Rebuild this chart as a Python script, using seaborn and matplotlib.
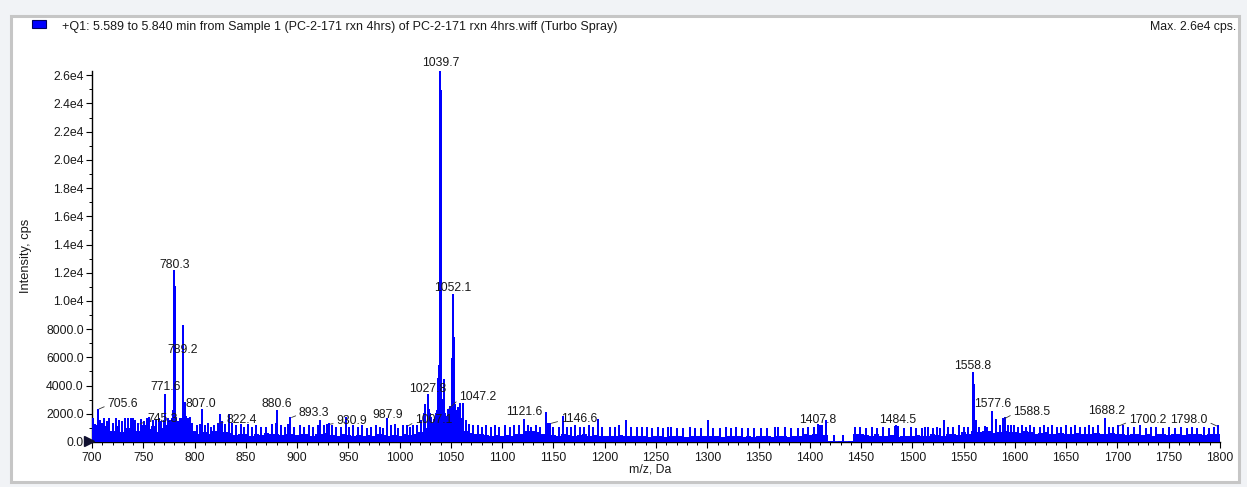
import numpy as np
import pandas as pd
import matplotlib
matplotlib.use("Agg")
import matplotlib.pyplot as plt
import matplotlib.transforms as mtransforms
from matplotlib.patches import Rectangle
from matplotlib.ticker import FixedLocator, FixedFormatter, MultipleLocator
import seaborn as sns

# ---------------- data ----------------
title_text = "+Q1: 5.589 to 5.840 min from Sample 1 (PC-2-171 rxn 4hrs) of PC-2-171 rxn 4hrs.wiff (Turbo Spray)"
max_text = "Max. 2.6e4 cps."
x_label = "m/z, Da"
y_label = "Intensity, cps"

# dense baseline (cps), one value every 5 Da from 700 to 1800
baseline_start, baseline_step = 700, 5
baseline_cps = [
    1100, 1200, 900, 1100, 800, 1150, 700, 1000, 1100, 800, 1200, 900, 1100, 700, 1000, 1200, 800, 1000, 1300, 1100,
    800, 600, 700, 550, 800, 600, 700, 650, 500, 600, 550, 450, 600, 500, 650, 550, 600, 500, 550, 600,
    500, 600, 550, 450, 600, 550, 650, 500, 450, 550, 500, 450, 500, 400, 500, 450, 550, 500, 450, 500,
    450, 550, 500, 550, 700, 1000, 1300, 1600, 1900, 1700, 2000, 1600, 1100, 800, 650, 550, 600, 500, 450, 500,
    450, 500, 450, 550, 600, 750, 800, 700, 550, 600, 500, 450, 550, 500, 450, 500, 550, 450, 500, 450,
    450, 400, 450, 500, 400, 450, 400, 450, 400, 350, 450, 400, 350, 400, 450, 400, 350, 400, 450, 400,
    400, 450, 400, 350, 400, 450, 400, 350, 400, 350, 400, 450, 400, 350, 450, 400, 350, 400, 450, 550,
    500, 550, 600, 500, 50, 0, 60, 0, 80, 600, 550, 500, 450, 550, 400, 450, 500, 350, 450, 400,
    450, 500, 400, 450, 550, 500, 450, 550, 600, 500, 700, 600, 800, 700, 750, 800, 650, 700, 750, 700,
    700, 650, 750, 700, 600, 650, 700, 600, 550, 650, 600, 550, 650, 600, 550, 600, 650, 550, 600, 650,
    550, 600, 500, 550, 600, 500, 550, 450, 600, 550, 500, 550, 600, 500, 550, 600, 550, 500, 550, 600, 550,
]

# unlabelled centroid spikes
spike_mz = [
    701, 703, 708, 710, 712, 715, 717, 720, 723, 726, 729, 732, 735, 738, 740, 742, 748, 751, 754, 756,
    759, 762, 765, 767, 770, 774, 776, 778, 779, 781.1, 782, 784, 786, 788, 790.2, 791, 792, 794, 796, 798,
    802, 805, 810, 813, 816, 819, 825, 827, 830, 834, 837, 840, 845, 848, 852, 856, 860, 865, 870, 876,
    879, 884, 888, 891, 897,
    903, 907, 912, 916, 920, 922, 926, 929, 934, 938, 943, 947.8, 951, 955, 959, 963, 968, 972, 977, 981,
    984, 992, 995, 998,
    1003, 1010, 1013, 1017, 1021, 1024, 1025, 1029, 1030, 1031, 1033, 1035, 1036.5, 1037.5, 1038.5, 1040.5,
    1041.5, 1043, 1044, 1046, 1049, 1051, 1053, 1054, 1055.5, 1057, 1058.5, 1060, 1062, 1065, 1068, 1072,
    1076, 1080, 1084, 1089, 1093, 1097,
    1103, 1108, 1112, 1116, 1125, 1128, 1133, 1137, 1143, 1145, 1150, 1155, 1159, 1163, 1167, 1171, 1176,
    1180, 1185, 1189, 1193, 1197,
    1205, 1210, 1214, 1221, 1226, 1231, 1236, 1241, 1246, 1252, 1257, 1262, 1265, 1270, 1276, 1283, 1288,
    1294, 1300.7,
    1306, 1312, 1318, 1323, 1328, 1334, 1340, 1346, 1352, 1358, 1366, 1369, 1376, 1382, 1388, 1393, 1398,
    1404, 1410, 1412, 1416, 1424, 1432, 1444, 1449, 1455, 1461, 1466, 1471, 1477, 1483, 1486, 1492, 1499,
    1504, 1509, 1512, 1515, 1520, 1524, 1527, 1530.8, 1535, 1540, 1545, 1550, 1554, 1560, 1562, 1565,
    1570.7, 1573, 1582, 1585, 1590, 1593, 1596, 1599,
    1603, 1607, 1611, 1615, 1619, 1624, 1628, 1632, 1636, 1641, 1645, 1650, 1655, 1659, 1663, 1668, 1672,
    1676, 1681, 1692, 1696,
    1705, 1710, 1716, 1722, 1728, 1733, 1738, 1744, 1750, 1756, 1762, 1768, 1773, 1778, 1784, 1789, 1794,
]
spike_cps = [
    1600, 1200, 1500, 1300, 1600, 1400, 1600, 1300, 1650, 1500, 1400, 1650, 1650, 1650, 1650, 1500, 1550, 1400, 1650, 1700,
    1500, 1550, 1650, 1450, 1500, 1650, 1500, 1600, 2200, 11000, 1700, 1400, 1650, 1600, 2800, 2800, 1800, 1600, 1700, 1300,
    1100, 1200, 1100, 1300, 1000, 1100, 1900, 1400, 1200, 1900, 1300, 1100, 1200, 1000, 1200, 1000, 1100, 1000, 1000, 1200,
    1300, 1100, 1000, 1200, 1000,
    1100, 1000, 1100, 1000, 1100, 1500, 1100, 1200, 1100, 1000, 1000, 1700, 1000, 1100, 1000, 1100, 900, 1000, 1100, 1000,
    900, 1100, 1200, 900,
    1100, 1000, 1100, 1100, 1500, 2000, 2600, 2300, 2000, 1700, 1300, 2000, 2200, 4500, 5400, 24900,
    3000, 4400, 2000, 1800, 2500, 5900, 7400, 2600, 2200, 2400, 2700, 1600, 2700, 1500, 1200, 1100,
    1100, 1000, 1100, 1000, 1100, 1000,
    1100, 1000, 1100, 1100, 1100, 1000, 1100, 1000, 2050, 1300, 1000, 1000, 1800, 1000, 1000, 1100, 1000,
    1000, 1100, 1000, 1550, 1000,
    1000, 1000, 1100, 1500, 1000, 1000, 1000, 1000, 900, 1000, 900, 1000, 1000, 900, 900, 1000, 900,
    900, 1500,
    900, 900, 1000, 900, 1000, 900, 900, 900, 900, 900, 1000, 1000, 1000, 900, 900, 900, 1000,
    1000, 1100, 1100, 1500, 400, 450, 1000, 1000, 900, 1000, 900, 1000, 900, 1050, 1050, 900, 1000,
    900, 900, 1000, 1000, 900, 1000, 900, 1500, 1000, 1000, 1100, 1000, 1000, 4040, 1500, 1000,
    1090, 1000, 1560, 1100, 1700, 1100, 1100, 1100,
    1000, 1100, 1000, 1100, 1000, 1000, 1100, 1000, 1100, 1000, 1000, 1100, 1000, 1100, 1000, 1000, 1100,
    1000, 1100, 1000, 1000,
    1100, 1000, 1000, 1100, 900, 1000, 1000, 900, 1000, 900, 1000, 900, 1000, 900, 1000, 900, 1000,
]

# labelled peaks
peak_mz = [705.6, 745.3, 771.6, 780.3, 789.2, 807.0, 822.4, 880.6, 893.3, 930.9, 987.9, 1007.1, 1027.8,
           1039.7, 1047.2, 1052.1, 1121.6, 1146.6, 1407.8, 1484.5, 1558.8, 1577.6, 1588.5, 1688.2,
           1700.2, 1798.0]
peak_cps = [2300, 1250, 3300, 12100, 8200, 2250, 1300, 2200, 1700, 1250, 1600, 1100, 3300,
            26200, 2300, 10400, 1550, 1300, 1200, 1100, 4870, 2150, 1600, 1600,
            1100, 1100]
peak_labels = ["705.6", "745.3", "771.6", "780.3", "789.2", "807.0", "822.4", "880.6", "893.3", "930.9",
               "987.9", "1007.1", "1027.8", "1039.7", "1047.2", "1052.1", "1121.6", "1146.6", "1407.8",
               "1484.5", "1558.8", "1577.6", "1588.5", "1688.2", "1700.2", "1798.0"]

y_tick_values = [0, 2000, 4000, 6000, 8000, 10000, 12000, 14000, 16000, 18000, 20000, 22000, 24000, 26000]
y_tick_labels = ["0.0", "2000.0", "4000.0", "6000.0", "8000.0", "1.0e4", "1.2e4", "1.4e4", "1.6e4",
                 "1.8e4", "2.0e4", "2.2e4", "2.4e4", "2.6e4"]

# ---------------- style / layout ----------------
# label offsets from peak top in pixels (dx, dy; dy positive = up), leader flag
label_style = {
    "705.6": (25, 6, True), "745.3": (24, 5, True), "771.6": (0, 8.5, False), "780.3": (0, 6.3, False),
    "789.2": (-1, -23.7, False), "807.0": (-0.7, 6.3, False), "822.4": (24, 4, True), "880.6": (-0.7, 7, False),
    "893.3": (24, 5.3, True), "930.9": (23, 3, True), "987.9": (0, 4, False), "1007.1": (27, 6.5, True),
    "1027.8": (-0.7, 6.5, False), "1039.7": (0.6, 9.5, False), "1047.2": (30, 12.6, True),
    "1052.1": (-0.5, 7.3, False), "1121.6": (0, 8, False), "1146.6": (29, 4.7, True), "1407.8": (0, 5, False),
    "1484.5": (1.5, 6.5, False), "1558.8": (0.3, 7.3, False), "1577.6": (1, 7.7, False),
    "1588.5": (29, 7.4, True), "1688.2": (1.6, 8.4, False), "1700.2": (30, 6.5, True), "1798.0": (-29, 6.5, True),
}

W, H = 1247, 487
BLUE = "#0000ff"
FS = 8.8

sns.set_style("ticks")
plt.rcParams["font.family"] = ["Liberation Sans", "DejaVu Sans"]
plt.rcParams["font.size"] = FS

fig = plt.figure(figsize=(W / 100, H / 100), dpi=100, facecolor="#f1f3f6")
frame = Rectangle((11 / W, 1 - 482 / H), (1239 - 11) / W, (482 - 16) / H,
                  transform=fig.transFigure, facecolor="white", edgecolor="#c6c6c6",
                  lw=2.2, zorder=-10)
fig.patches.append(frame)
ax = fig.add_axes([92 / W, 1 - 442 / H, (1220 - 92) / W, (442 - 71) / H])
ax.set_zorder(5)
ax.patch.set_alpha(0)

# baseline fill
base_mz = baseline_start + baseline_step * np.arange(len(baseline_cps))
ax.fill_between(base_mz, baseline_cps, step="mid", color=BLUE, lw=0, zorder=2)

# centroid sticks through seaborn
all_mz = np.array(spike_mz + peak_mz, dtype=float)
all_cps = np.array(spike_cps + peak_cps, dtype=float)
order = np.argsort(all_mz)
all_mz, all_cps = all_mz[order], all_cps[order]
df = pd.DataFrame({
    "mz": np.repeat(all_mz, 3),
    "cps": np.column_stack([np.zeros_like(all_cps), all_cps, np.zeros_like(all_cps)]).ravel(),
})
sns.lineplot(data=df, x="mz", y="cps", sort=False, estimator=None, color=BLUE, lw=1.3, ax=ax, zorder=3)

ax.set_xlim(700, 1800)
ax.set_ylim(0, 26300)
ax.set_xlabel("")
ax.set_ylabel("")

ax.xaxis.set_major_locator(MultipleLocator(50))
ax.xaxis.set_minor_locator(MultipleLocator(10))
ax.yaxis.set_major_locator(FixedLocator(y_tick_values))
ax.yaxis.set_major_formatter(FixedFormatter(y_tick_labels))
ax.yaxis.set_minor_locator(MultipleLocator(1000))
ax.tick_params(axis="both", which="major", length=4.5, width=0.8, color="black", labelsize=FS,
               labelcolor="#1a1a1a", pad=1.5)
ax.tick_params(axis="both", which="minor", length=2.2, width=0.7, color="black")
ax.tick_params(axis="x", which="major", pad=3)
for s in ["top", "right"]:
    ax.spines[s].set_visible(False)
for s in ["left", "bottom"]:
    ax.spines[s].set_color("black")
    ax.spines[s].set_linewidth(1.0)

# origin marker
ax.plot([700], [0], marker=">", ms=7, color="#101030", clip_on=False, zorder=5,
        transform=mtransforms.offset_copy(ax.transData, fig=fig, x=-3.5, y=1, units="dots"))

# peak labels
for lab, mz, cps in zip(peak_labels, peak_mz, peak_cps):
    dx, dy, leader = label_style[lab]
    kw = dict(xy=(mz, cps), textcoords="offset points", ha="center", fontsize=FS, color="#1a1a1a",
              annotation_clip=False, zorder=6)
    if leader:
        kw["xytext"] = (dx * 0.72, dy * 0.72)
        kw["va"] = "center"
        kw["arrowprops"] = dict(arrowstyle="-", color="#333333", lw=0.6, shrinkA=0, shrinkB=1,
                                relpos=(0.0, 0.35) if dx > 0 else (1.0, 0.35))
    else:
        kw["xytext"] = (dx * 0.72, (dy - 6) * 0.72)
        kw["va"] = "bottom"
    ax.annotate(lab, **kw)

# header texts
fig.patches.append(Rectangle((32 / W, 1 - 28 / H), 14 / W, 8 / H, transform=fig.transFigure,
                             facecolor=BLUE, edgecolor="#000060", lw=0.8, zorder=3))
fig.text(62 / W, 1 - 27 / H, title_text, ha="left", va="center", fontsize=9, color="#1a1a1a")
fig.text(1236 / W, 1 - 27 / H, max_text, ha="right", va="center", fontsize=FS, color="#1a1a1a")
fig.text(26 / W, 1 - 256 / H, y_label, rotation=90, ha="center", va="center", fontsize=FS + 0.5, color="#1a1a1a")
fig.text(650 / W, 1 - 470 / H, x_label, ha="center", va="center", fontsize=FS, color="#1a1a1a")

fig.savefig("out.png", dpi=100, facecolor=fig.get_facecolor())
